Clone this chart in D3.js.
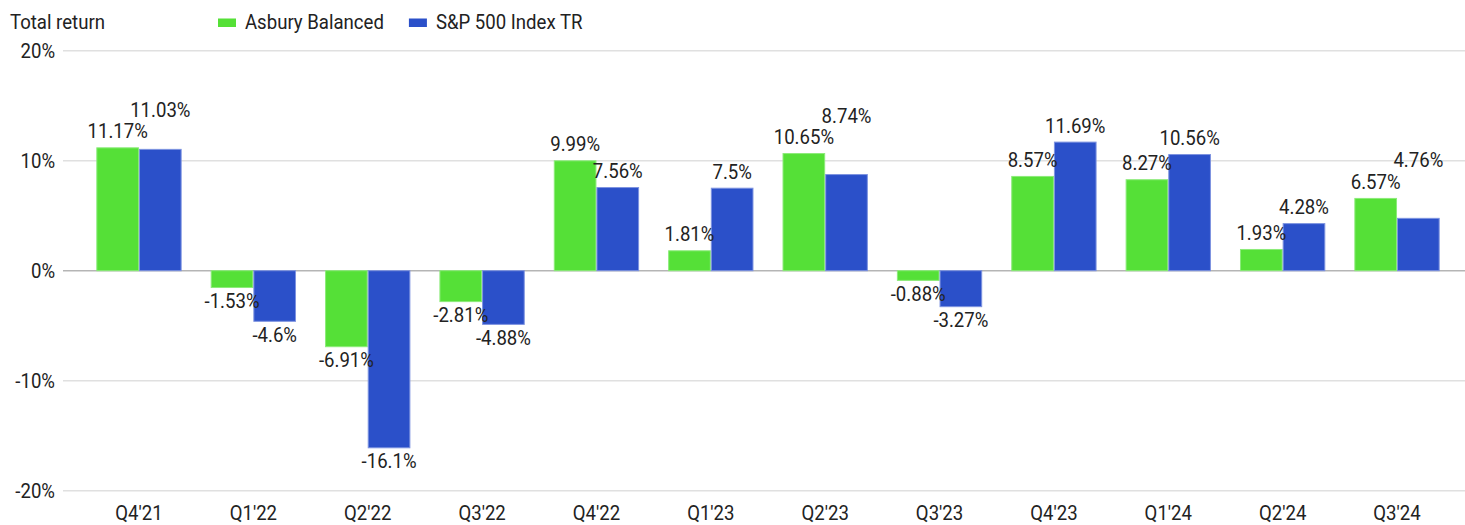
<!DOCTYPE html>
<html>
<head>
<meta charset="utf-8">
<script src="https://cdn.jsdelivr.net/npm/d3@7"></script>
<style>
  html, body { margin: 0; padding: 0; background: #fff; }
  svg { display: block; font-family: Roboto, "Noto Sans", sans-serif; }
</style>
</head>
<body>
<svg id="chart" width="1465" height="525"></svg>
<script>
const categories = ["Q4'21", "Q1'22", "Q2'22", "Q3'22", "Q4'22", "Q1'23", "Q2'23", "Q3'23", "Q4'23", "Q1'24", "Q2'24", "Q3'24"];
const asburyBalanced = [11.17, -1.53, -6.91, -2.81, 9.99, 1.81, 10.65, -0.88, 8.57, 8.27, 1.93, 6.57];
const sp500TR = [11.03, -4.6, -16.1, -4.88, 7.56, 7.5, 8.74, -3.27, 11.69, 10.56, 4.28, 4.76];
const seriesNames = ["Asbury Balanced", "S&P 500 Index TR"];
const yTicks = [-20, -10, 0, 10, 20];
const yTitle = "Total return";

const colors = ["#55e037", "#2b50c9"];
const strokes = ["#8beb79", "#7d93e0"];
const textColor = "#222";
const SX = 0.93;          // horizontal condensation to mimic a condensed face
const FS = 20;

const svg = d3.select("#chart");
const W = 1465;

const y = d3.scaleLinear().domain([-20, 20]).range([490.7, 50.7]);
const x = d3.scaleBand().domain(categories).range([81.8, 1454.2])
  .paddingInner(0.254).paddingOuter(0.127);
const xs = d3.scaleBand().domain([0, 1]).range([0, x.bandwidth()]);

function condensedText(sel, tx, ty, anchor) {
  return sel.append("text")
    .attr("transform", `translate(${tx},${ty}) scale(${SX},1)`)
    .attr("text-anchor", anchor)
    .attr("font-size", FS)
    .attr("fill", textColor);
}

// gridlines
const grid = svg.append("g");
yTicks.forEach(t => {
  grid.append("line")
    .attr("x1", 63).attr("x2", W)
    .attr("y1", y(t)).attr("y2", y(t))
    .attr("stroke", t === 0 ? "#b5b5b5" : "#e0e0e0")
    .attr("stroke-width", 1.5);
});

// y tick labels
const yAxisG = svg.append("g");
yTicks.forEach(t => {
  condensedText(yAxisG, 55, y(t) + 7.2, "end").text(t + "%");
});

// x tick labels
const xAxisG = svg.append("g");
categories.forEach(c => {
  condensedText(xAxisG, x(c) + x.bandwidth() / 2, 520, "middle").text(c);
});

// bars
const series = [asburyBalanced, sp500TR];
const barsG = svg.append("g");
series.forEach((vals, si) => {
  vals.forEach((v, i) => {
    const bx = x(categories[i]) + xs(si);
    barsG.append("rect")
      .attr("x", bx + 0.5).attr("y", Math.min(y(v), y(0)))
      .attr("width", xs.bandwidth() - 1).attr("height", Math.abs(y(v) - y(0)))
      .attr("fill", colors[si])
      .attr("stroke", strokes[si]).attr("stroke-width", 1);
  });
});

// data labels (blue label lifted above the green one when they collide)
const labelsG = svg.append("g");
const CAP = 15, PAD_BELOW = 9;
function fmt(v) { return v + "%"; }
function xRange(node, cx) {
  const w = node.getComputedTextLength() * SX;
  return [cx - w / 2, cx + w / 2];
}
categories.forEach((c, i) => {
  let green = null;
  series.forEach((vals, si) => {
    const v = vals[i];
    const cx = x(c) + xs(si) + xs.bandwidth() / 2;
    let by = v >= 0 ? y(v) - 9.5 : y(v) + 20.5;
    const t = condensedText(labelsG, cx, by, "middle").text(fmt(v));
    const xr = xRange(t.node(), cx);
    if (si === 0) {
      green = {by, v, xr};
    } else if (v >= 0 && green && green.v >= 0) {
      const hOverlap = xr[0] < green.xr[1] && xr[1] > green.xr[0];
      const vOverlap = (by - CAP) < (green.by + PAD_BELOW) && by > (green.by - CAP);
      if (hOverlap && vOverlap) {
        by = green.by - 21.5;
        t.attr("transform", `translate(${cx},${by}) scale(${SX},1)`);
      }
    }
  });
});

// title
condensedText(svg, 10, 29.3, "start").text(yTitle);

// legend
const legendG = svg.append("g");
let lx = 218;
seriesNames.forEach((name, si) => {
  legendG.append("rect")
    .attr("x", lx).attr("y", 18.5).attr("width", 18).attr("height", 8.5)
    .attr("fill", colors[si]);
  const t = condensedText(legendG, lx + 27, 29.3, "start").text(name);
  const w = t.node().getComputedTextLength() * SX;
  lx += 27 + w + 25;
});
</script>
</body>
</html>
